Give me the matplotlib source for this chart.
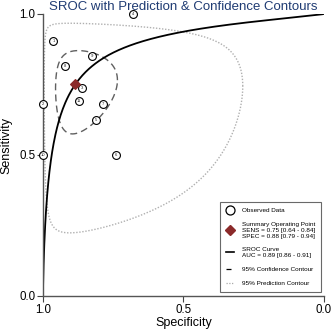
import numpy as np
import matplotlib
matplotlib.use("Agg")
import matplotlib.pyplot as plt
from matplotlib.lines import Line2D

plt.rcParams['font.family'] = ['Liberation Sans', 'DejaVu Sans']

# ---- data ----
study_ids = ["1", "2", "3", "4", "5", "6", "7", "8", "9", "10", "11"]
study_spec = [0.963, 1.000, 0.861, 0.681, 0.812, 0.739, 0.785, 0.923, 0.827, 1.000, 0.871]
study_sens = [0.904, 0.682, 0.736, 1.000, 0.624, 0.499, 0.682, 0.817, 0.849, 0.500, 0.690]

summary_sens = 0.75
summary_spec = 0.885

# SROC curve (logit(sens) = alpha + beta * logit(1 - spec))
sroc_alpha = 2.70
sroc_beta = 0.785

# Contour ellipses in logit space:
# (centre logit fpr, centre logit sens, sd logit fpr, sd logit sens, correlation)
conf_ellipse = (-2.04, 1.10, 1.02, 0.80, 0.10)
pred_ellipse = (-2.25, 1.065, 3.15, 2.31, 0.0)

legend_labels = [
    "Observed Data",
    "Summary Operating Point\nSENS = 0.75 [0.64 - 0.84]\nSPEC = 0.88 [0.79 - 0.94]",
    "SROC Curve\nAUC = 0.89 [0.86 - 0.91]",
    "95% Confidence Contour",
    "95% Prediction Contour",
]
title = "SROC with Prediction & Confidence Contours"
ticks = [1.0, 0.5, 0.0]
tick_labels = ["1.0", "0.5", "0.0"]


def logit(p):
    return np.log(p / (1 - p))


def expit(x):
    return 1 / (1 + np.exp(-x))


def ellipse(params, n=400):
    cx, cy, sx, sy, r = params
    t = np.linspace(0, 2 * np.pi, n)
    lx = cx + sx * np.cos(t)
    ly = cy + sy * (r * np.cos(t) + np.sqrt(1 - r ** 2) * np.sin(t))
    return 1 - expit(lx), expit(ly)


fig = plt.figure(figsize=(3.33, 3.31), dpi=100)
ax = fig.add_axes([0.129, 0.106, 0.844, 0.852])

# prediction contour
px, py = ellipse(pred_ellipse)
ax.plot(px, py, linestyle=(0, (1, 1.2)), color="#b0b0b0", lw=1.0)
# confidence contour
cxs, cys = ellipse(conf_ellipse)
ax.plot(cxs, cys, linestyle=(0, (5, 3)), color="#606060", lw=1.0)

# SROC curve
fpr = np.concatenate([np.logspace(-6, -1, 300), np.linspace(0.1, 0.99999, 400)])
sens_curve = expit(sroc_alpha + sroc_beta * logit(fpr))
ax.plot(1 - fpr, sens_curve, color="black", lw=1.3)

# observed data
ax.scatter(study_spec, study_sens, s=32, facecolor="white", edgecolor="black",
           linewidth=0.8, zorder=5, clip_on=False)
for sid, xs, ys in zip(study_ids, study_spec, study_sens):
    ax.text(xs, ys, sid, fontsize=3.0, ha="center", va="center", zorder=6,
            color="#222222")

# summary point
ax.scatter([summary_spec], [summary_sens], marker="D", s=24, color="#8b2a2a",
           zorder=7, clip_on=False)

ax.set_xlim(1, 0)
ax.set_ylim(0, 1)
ax.set_xticks(ticks)
ax.set_xticklabels(tick_labels)
ax.set_yticks(ticks)
ax.set_yticklabels(tick_labels)
ax.tick_params(axis="both", labelsize=8.3, length=4, width=0.8, color="#444444",
               pad=1.5)
for s in ["top", "right"]:
    ax.spines[s].set_visible(False)
for s in ["left", "bottom"]:
    ax.spines[s].set_color("#555555")
    ax.spines[s].set_linewidth(1.0)
ax.set_xlabel("Specificity", fontsize=9, labelpad=1)
ax.set_ylabel("Sensitivity", fontsize=9)
ax.yaxis.set_label_coords(-0.108, 0.535)

fig.text(0.551, 1 - 9.5 / 331, title, ha="center", va="baseline", fontsize=9.5,
         color="#1f3b73")

handles = [
    Line2D([], [], marker="o", linestyle="none", markerfacecolor="white",
           markeredgecolor="black", markersize=6.5, markeredgewidth=0.9),
    Line2D([], [], marker="D", linestyle="none", color="#8b2a2a", markersize=5.5),
    Line2D([], [], color="black", lw=1.2),
    Line2D([], [], color="black", lw=0.9, linestyle=(0, (4, 3))),
    Line2D([], [], color="#aaaaaa", lw=0.9, linestyle=(0, (1, 1.2))),
]
leg = ax.legend(handles, legend_labels, loc="lower right",
                bbox_to_anchor=(0.99, 0.014), fontsize=4.6, frameon=True,
                fancybox=False, edgecolor="#444444", handlelength=1.2,
                handletextpad=1.3, labelspacing=1.35, borderpad=0.9,
                borderaxespad=0.0)
leg.get_frame().set_linewidth(0.8)

fig.savefig("out.png", dpi=100)
